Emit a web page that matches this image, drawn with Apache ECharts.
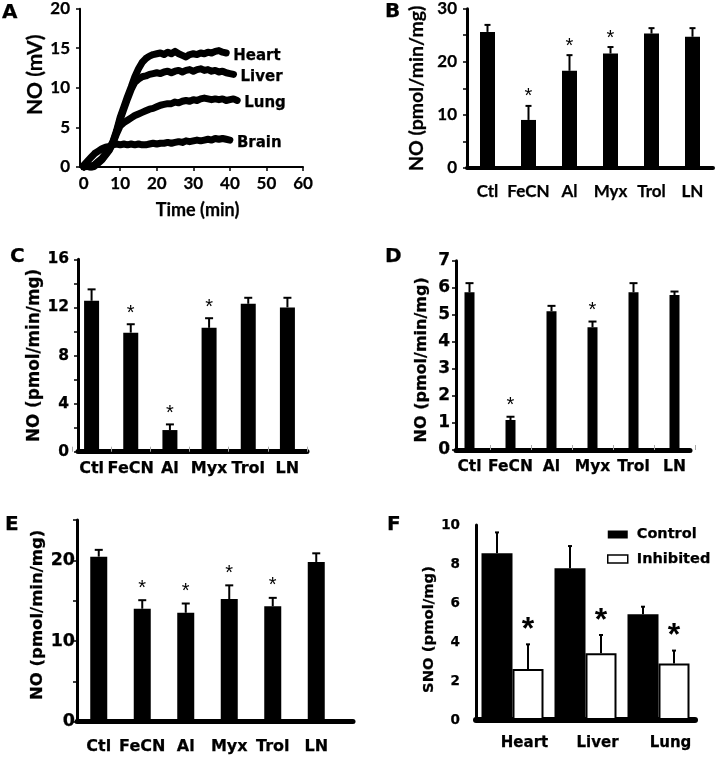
<!DOCTYPE html>
<html><head><meta charset="utf-8">
<script src="https://cdn.jsdelivr.net/npm/echarts@6/dist/echarts.min.js"></script>
<style>html,body{margin:0;padding:0;background:#fff}#c{width:717px;height:759px}</style>
</head><body><div id="c"></div>
<script>
// ---------- Panel A data (NO, mV vs time, min) ----------
const timeMin = [0,1,2,3,4,5,6,7,8,9,10,11,12,13,14,15,16,17,18,19,20,21,22,23,24,25,26,27,28,29,30,31,32,33,34,35,36,37,38,39,40,41,42];
const heartNO = [0.1,0.2,0.1,0.3,0.7,1.1,1.7,2.3,3.2,4.6,6.3,7.6,8.9,10.1,11.4,12.4,13.2,13.7,14.0,14.2,14.3,14.4,14.2,14.5,14.3,14.6,14.3,14.1,13.9,14.2,14.3,14.2,14.4,14.3,14.5,14.4,14.6,14.7,14.5,14.4];
const liverNO = [0.0,0.1,0.0,0.2,0.6,1.0,1.6,2.2,3.1,4.4,6.0,7.3,8.6,9.8,10.7,11.1,11.4,11.5,11.7,11.8,11.9,11.8,12.0,12.1,11.9,12.1,12.2,12.0,12.2,12.3,12.1,12.3,12.4,12.2,12.3,12.1,12.2,12.0,12.1,11.9,11.8,11.7];
const lungNO  = [0.0,0.1,-0.1,0.1,0.5,0.9,1.5,2.1,3.0,4.2,5.2,5.6,5.9,6.2,6.5,6.7,6.9,7.1,7.3,7.4,7.6,7.8,7.9,8.0,8.0,8.2,8.1,8.3,8.4,8.3,8.5,8.4,8.6,8.7,8.6,8.5,8.6,8.5,8.6,8.4,8.5,8.6,8.4];
const brainNO = [0.2,0.7,1.2,1.7,2.0,2.3,2.5,2.6,2.8,2.9,2.8,2.9,2.8,2.9,2.8,2.9,2.8,2.8,2.9,3.0,2.9,3.0,3.0,3.1,3.0,3.1,3.2,3.1,3.3,3.2,3.3,3.4,3.3,3.4,3.5,3.4,3.6,3.5,3.6,3.5,3.4];
const aXLabels = [0,10,20,30,40,50,60];
const aYLabels = [0,5,10,15,20];

// ---------- Panels B-E categories ----------
const treatments = ['Ctl','FeCN','Al','Myx','Trol','LN'];

// Panel B
const bMean = [25.2, 8.9, 18.0, 21.2, 24.9, 24.3];
const bErr  = [1.3, 2.6, 2.9, 1.2, 1.0, 1.6];
const bStar = [0,1,1,1,0,0];
const bYLabels = [0,10,20,30];
const bYTicks  = [0,5,10,15,20,25,30];

// Panel C
const cMean = [12.55, 9.9, 1.8, 10.3, 12.3, 12.0];
const cErr  = [0.95, 0.7, 0.47, 0.8, 0.5, 0.8];
const cStar = [0,1,1,1,0,0];
const cYLabels = [0,4,8,12,16];
const cYTicks  = [0,2,4,6,8,10,12,14,16];

// Panel D
const dMean = [5.83, 1.11, 5.13, 4.54, 5.83, 5.73];
const dErr  = [0.34, 0.12, 0.2, 0.21, 0.34, 0.13];
const dStar = [0,1,0,1,0,0];
const dYLabels = [0,1,2,3,4,5,6,7];
const dYTicks  = [0,1,2,3,4,5,6,7];

// Panel E
const eMean = [20.46, 14.0, 13.5, 15.2, 14.3, 19.8];
const eErr  = [0.84, 1.06, 1.15, 1.7, 1.05, 1.07];
const eStar = [0,1,1,1,1,0];
const eYLabels = [0,10,20];
const eYTicks  = [0,5,10,15,20,25];

// Panel F
const tissues = ['Heart','Liver','Lung'];
const fControl = [8.55, 7.78, 5.42];
const fControlErr = [1.07, 1.14, 0.39];
const fInhib = [2.62, 3.42, 2.9];
const fInhibErr = [1.26, 0.94, 0.66];
const fInhibStar = [1,1,1];
const fYLabels = [0,2,4,6,8,10];

// ---------- build ----------
const DJ = 'DejaVu Sans, sans-serif';
const ARIAL = 'Liberation Sans, Arial, sans-serif';
const CAL = 'Lato, sans-serif';
const option = {animation:false, backgroundColor:'#fff', title:[], grid:[], xAxis:[], yAxis:[], series:[], legend:[]};

function addGrid(x0, x1, y0, y1) {
  option.grid.push({left:x0, top:y0, width:x1-x0, height:y1-y0});
  return option.grid.length - 1;
}
function txt(size, fam) {
  return {fontSize:size, fontWeight:'bold', fontFamily:fam, color:'#000', textBorderColor:'#000', textBorderWidth:0.25};
}

function errSeries(gi, mean, err, star, o) {
  return {
    type:'custom', xAxisIndex:gi, yAxisIndex:gi, z:4, clip:false, silent:true,
    data: mean.map((m,i)=>[i, m, err[i], star ? star[i] : 0]),
    renderItem: function(params, api) {
      const i = api.value(0), m = api.value(1), e = api.value(2), s = api.value(3);
      const p0 = api.coord([i, m]), p1 = api.coord([i, m + e]);
      const x = p0[0] + (o.dx || 0);
      const ch = [
        {type:'line', shape:{x1:x, y1:p0[1], x2:x, y2:p1[1]}, style:{stroke:'#000', lineWidth:o.lw}},
        {type:'line', shape:{x1:x-o.cap, y1:p1[1], x2:x+o.cap, y2:p1[1]}, style:{stroke:'#000', lineWidth:o.lw}}
      ];
      if (s) ch.push({type:'text', style:{text:'*', x:x, y:p1[1]-o.sg, align:'center', verticalAlign:'middle',
        fontSize:o.ss, fontFamily:ARIAL, fontWeight:o.sw || 'normal', fill:'#000'}});
      return {type:'group', children:ch};
    }
  };
}

function barPanel(p) {
  const gF = addGrid(p.frame[0], p.frame[1], p.top, p.bottom);
  option.xAxis.push({gridIndex:gF, type:'value', min:0, max:1,
    axisLine:{show:true, onZero:false, lineStyle:{color:'#000', width:p.xw}},
    axisTick:{show:false}, axisLabel:{show:false}, splitLine:{show:false}});
  option.yAxis.push({gridIndex:gF, type:'value', min:0, max:p.max,
    axisLine:{show:true, onZero:false, lineStyle:{color:'#000', width:p.yw}},
    axisTick:{show:true, customValues:p.ticks, length:4, lineStyle:{color:'#000', width:1.5}},
    axisLabel:Object.assign({customValues:p.labels, margin:p.ym}, txt(p.tfs, p.fam)),
    splitLine:{show:false},
    name:p.name, nameLocation:'middle', nameRotate:90, nameGap:p.ng,
    nameTextStyle:Object.assign({padding:p.npad || 0}, txt(p.nfs, p.fam))});
  const gB = addGrid(p.bars[0], p.bars[1], p.top, p.bottom);
  option.xAxis.push({gridIndex:gB, type:'category', data:p.cats, z:5, offset:p.sep ? p.xw/2 : 0,
    axisLine:{show:false},
    axisTick: p.sep ? {show:true, inside:true, length:p.xw, lineStyle:{color:'#aaa', width:1}} : {show:false},
    axisLabel:Object.assign({margin:p.xm - (p.sep ? p.xw/2 : 0), interval:0, padding:p.xpad || 0}, txt(p.xfs, p.fam)),
    splitLine:{show:false}});
  option.yAxis.push({gridIndex:gB, type:'value', min:0, max:p.max, show:false});
  return gB;
}

// ---------- Panel A ----------
const gA = addGrid(80, 303, 7, 167);
option.xAxis.push({gridIndex:gA, type:'value', min:-1, max:60,
  axisLine:{show:true, onZero:false, lineStyle:{color:'#000', width:2}},
  axisTick:{show:true, customValues:aXLabels, length:4, lineStyle:{color:'#000', width:1.5}},
  axisLabel:Object.assign({customValues:aXLabels, margin:8}, txt(17, CAL)),
  splitLine:{show:false},
  name:'Time (min)', nameLocation:'middle', nameGap:34, nameTextStyle:Object.assign({padding:[0,0,0,12]}, txt(18, CAL))});
option.yAxis.push({gridIndex:gA, type:'value', min:0, max:20,
  axisLine:{show:true, onZero:false, lineStyle:{color:'#000', width:2}},
  axisTick:{show:true, customValues:aYLabels, length:4, lineStyle:{color:'#000', width:1.5}},
  axisLabel:Object.assign({customValues:aYLabels, margin:10}, txt(17, CAL)),
  splitLine:{show:false},
  name:'NO (mV)', nameLocation:'middle', nameRotate:90, nameGap:33, nameTextStyle:Object.assign({padding:[0,0,0,26]}, txt(21, CAL))});
[['Heart',heartNO],['Liver',liverNO],['Lung',lungNO],['Brain',brainNO]].forEach(([nm, vals])=>{
  option.series.push({type:'line', name:nm, xAxisIndex:gA, yAxisIndex:gA, showSymbol:false, symbol:'none',
    data: vals.map((v,i)=>[timeMin[i], v]),
    lineStyle:{color:'#000', width:7, cap:'round', join:'round'},
    endLabel:Object.assign({show:true, formatter:nm, distance:7, offset:[0,3]}, txt(15, DJ)),
    labelLayout:{hideOverlap:false},
    z:2});
});

// ---------- Panel B ----------
const gB = barPanel({frame:[467,713], bars:[467,713], top:6, bottom:168, max:30, labels:bYLabels, ticks:bYTicks,
  xw:4, yw:3, fam:CAL, tfs:17, xfs:17, nfs:19.5, ym:10, xm:15, ng:40, name:'NO (pmol/min/mg)', cats:treatments});
option.series.push({type:'bar', xAxisIndex:gB, yAxisIndex:gB, data:bMean, barWidth:15, itemStyle:{color:'#000'}, z:2});
option.series.push(errSeries(gB, bMean, bErr, bStar, {lw:2, cap:3, sg:9, ss:20}));

// ---------- Panel C ----------
const gC = barPanel({frame:[78,307], bars:[72,307], top:259.3, bottom:451.7, max:16, labels:cYLabels, ticks:cYTicks,
  xw:5, yw:3, fam:DJ, tfs:15.5, xfs:16, nfs:16.8, ym:9, xm:9, ng:33, name:'NO (pmol/min/mg)', cats:treatments, sep:true});
option.series.push({type:'bar', xAxisIndex:gC, yAxisIndex:gC, data:cMean, barWidth:15, itemStyle:{color:'#000'}, z:2});
option.series.push(errSeries(gC, cMean, cErr, cStar, {lw:2, cap:4, sg:11, ss:20}));

// ---------- Panel D ----------
const gD = barPanel({frame:[456,690], bars:[449,695], top:260.7, bottom:450, max:7, labels:dYLabels, ticks:dYTicks,
  xw:5, yw:3, fam:DJ, tfs:17, xfs:15.5, nfs:16, ym:6, xm:9, ng:26, npad:[0,9,0,0], name:'NO (pmol/min/mg)', cats:treatments, sep:true});
option.series.push({type:'bar', xAxisIndex:gD, yAxisIndex:gD, data:dMean, barWidth:10, itemStyle:{color:'#000'}, z:2});
option.series.push(errSeries(gD, dMean, dErr, dStar, {lw:2, cap:4, sg:11, ss:20}));

// ---------- Panel E ----------
const gE = barPanel({frame:[77,353], bars:[77,338], top:520, bottom:721.7, max:25, labels:eYLabels, ticks:eYTicks,
  xw:5, yw:3, fam:DJ, tfs:17.5, xfs:16, nfs:16.5, ym:2, xm:17, ng:28, npad:[0,0,0,12], name:'NO (pmol/min/mg)', cats:treatments});
option.series.push({type:'bar', xAxisIndex:gE, yAxisIndex:gE, data:eMean, barWidth:17, itemStyle:{color:'#000'}, z:2});
option.series.push(errSeries(gE, eMean, eErr, eStar, {lw:2, cap:4, sg:12, ss:20}));

// ---------- Panel F ----------
const gF = barPanel({frame:[476,695], bars:[476,695], top:525, bottom:720, max:10, labels:fYLabels, ticks:[],
  xw:6, yw:3, fam:DJ, tfs:13.5, xfs:15, nfs:14.8, ym:16, xm:16, ng:35, npad:[0,14,0,0], name:'SNO (pmol/mg)', cats:tissues, xpad:[0,0,0,24]});
option.series.push({type:'bar', name:'Control', xAxisIndex:gF, yAxisIndex:gF, data:fControl, barWidth:31, barGap:'0%', itemStyle:{color:'#000'}, z:2});
option.series.push({type:'bar', name:'Inhibited', xAxisIndex:gF, yAxisIndex:gF, data:fInhib, barWidth:31, barGap:'0%', itemStyle:{color:'#fff', borderColor:'#000', borderWidth:2}, z:2});
option.series.push(errSeries(gF, fControl, fControlErr, null, {lw:2, cap:2, sg:0, ss:0, dx:-15.5}));
option.series.push(errSeries(gF, fInhib, fInhibErr, fInhibStar, {lw:2, cap:2, sg:14, ss:32, sw:'bold', dx:15.5}));
option.legend.push({left:607, top:526, padding:0, orient:'vertical', itemWidth:20, itemHeight:8, itemGap:7.5, icon:'rect',
  selectedMode:false,
  textStyle:Object.assign({padding:[0,0,0,4], lineHeight:17}, txt(14.5, DJ)),
  data:[{name:'Control', itemStyle:{color:'#000'}}, {name:'Inhibited', itemStyle:{color:'#fff', borderColor:'#000', borderWidth:1.5}}]});

// ---------- Panel letters ----------
[['A',2,3],['B',385,2],['C',10,247],['D',385,247],['E',5,515],['F',387,515]].forEach(([t,l,tp])=>{
  option.title.push({text:t, left:l, top:tp, padding:0, textStyle:txt(20, DJ)});
});

const chart = echarts.init(document.getElementById('c'), null, {renderer:'canvas'});
chart.setOption(option);
</script></body></html>
